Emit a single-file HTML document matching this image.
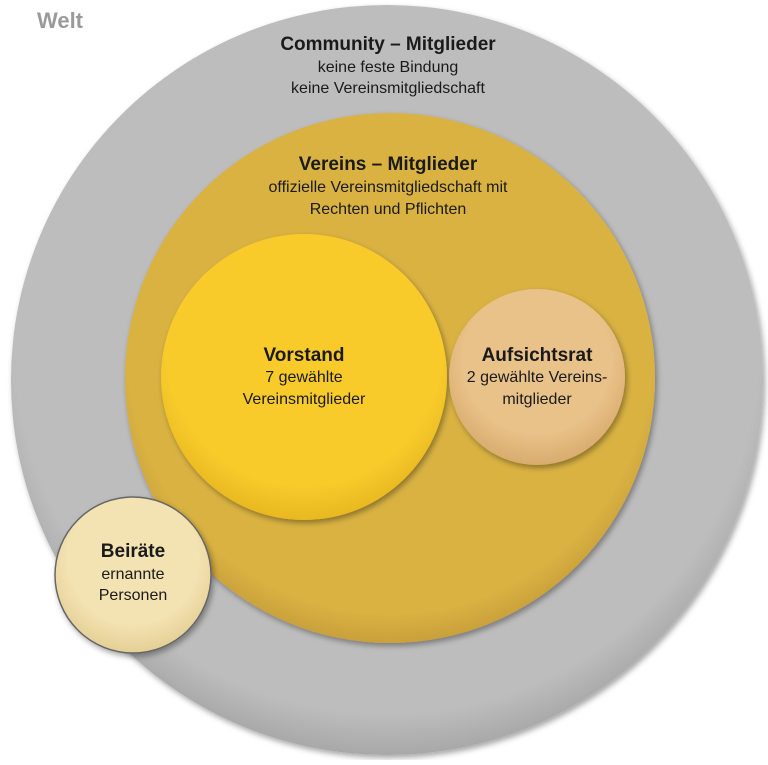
<!DOCTYPE html>
<html><head><meta charset="utf-8"><style>
html,body{margin:0;padding:0;background:#fff;}
svg text{font-family:"Liberation Sans Narrow","Liberation Sans",sans-serif;text-anchor:middle;fill:#1a1a1a;}
.t{font-weight:bold;font-size:19px;}
.s{font-size:16px;}
</style></head><body>
<svg width="768" height="760" viewBox="0 0 768 760" xmlns="http://www.w3.org/2000/svg">
<defs>
<filter id="sh" x="-20%" y="-20%" width="140%" height="140%"><feDropShadow dx="2" dy="3" stdDeviation="3" flood-color="#000" flood-opacity="0.35"/></filter>
<radialGradient id="g1" cx="50%" cy="45%" r="55%"><stop offset="0.9" stop-color="#bdbdbd"/><stop offset="1" stop-color="#a8a8a8"/></radialGradient>
<radialGradient id="g2" cx="50%" cy="45%" r="55%"><stop offset="0.9" stop-color="#d9b243"/><stop offset="1" stop-color="#c9a03a"/></radialGradient>
<radialGradient id="g3" cx="50%" cy="40%" r="60%"><stop offset="0.8" stop-color="#f8cb2c"/><stop offset="1" stop-color="#e8b820"/></radialGradient>
<radialGradient id="g4" cx="50%" cy="40%" r="60%"><stop offset="0.7" stop-color="#e9c289"/><stop offset="1" stop-color="#d9ab6e"/></radialGradient>
<radialGradient id="g5" cx="50%" cy="40%" r="60%"><stop offset="0.7" stop-color="#f3e2b2"/><stop offset="1" stop-color="#e4cf95"/></radialGradient>
</defs>
<text x="60" y="28" style="font-weight:bold;font-size:22px;fill:#9a9a9a">Welt</text>
<ellipse cx="387" cy="380" rx="376" ry="375" fill="url(#g1)" filter="url(#sh)"/>
<ellipse cx="390" cy="378" rx="265" ry="265" fill="url(#g2)" filter="url(#sh)"/>
<circle cx="304" cy="377" r="143" fill="url(#g3)" filter="url(#sh)"/>
<circle cx="537" cy="377" r="88" fill="url(#g4)" filter="url(#sh)"/>
<circle cx="133" cy="575" r="78" fill="url(#g5)" stroke="#666" stroke-width="1.5" filter="url(#sh)"/>
<text class="t" x="388" y="50">Community – Mitglieder</text>
<text class="s" x="388" y="72">keine feste Bindung</text>
<text class="s" x="388" y="93">keine Vereinsmitgliedschaft</text>
<text class="t" x="388" y="170">Vereins – Mitglieder</text>
<text class="s" x="388" y="192">offizielle Vereinsmitgliedschaft mit</text>
<text class="s" x="388" y="214">Rechten und Pflichten</text>
<text class="t" x="304" y="361">Vorstand</text>
<text class="s" x="304" y="382">7 gewählte</text>
<text class="s" x="304" y="404">Vereinsmitglieder</text>
<text class="t" x="537" y="361">Aufsichtsrat</text>
<text class="s" x="537" y="382">2 gewählte Vereins-</text>
<text class="s" x="537" y="404">mitglieder</text>
<text class="t" x="133" y="557">Beiräte</text>
<text class="s" x="133" y="579">ernannte</text>
<text class="s" x="133" y="600">Personen</text>
</svg>
</body></html>
